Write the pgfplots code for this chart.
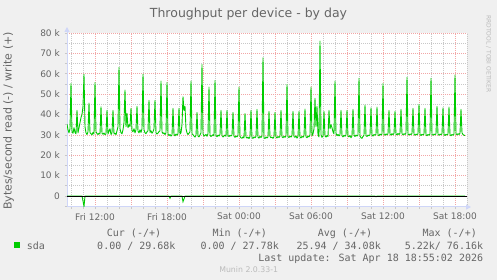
\documentclass[border=0pt]{standalone}
\usepackage{pgfplots}
\pgfplotsset{compat=1.18}
\usepackage{pgfplotstable}
\usepackage{fontspec}
\setmainfont{DejaVu Sans}
\newfontfamily\monofont{DejaVu Sans Mono}
\usetikzlibrary{arrows.meta}
\definecolor{bg}{HTML}{F0F0F0}
\definecolor{fontgrey}{HTML}{666666}
\definecolor{axisblue}{HTML}{CFD6F8}
\definecolor{mgridred}{HTML}{F2A6A6}
\definecolor{gridgrey}{HTML}{C8C8C8}
\definecolor{mgreen}{HTML}{00CC00}
\definecolor{wmgrey}{HTML}{BBBBBB}

\pgfplotstableread{
x y
-28 35.3
-27 32.5
-26 31.0
-25 33.0
-24 55.2
-23 31.5
-22 30.8
-21 33.5
-20 31.2
-19 30.5
-18 42.0
-17 31.0
-16 33.5
-15 36.0
-14 38.5
-13 40.0
-12 44.0
-11 59.7
-10 34.0
-9 31.0
-8 30.2
-7 31.5
-6 45.6
-5 31.0
-4 30.5
-3 30.0
-2 31.2
-1 30.4
0 55.7
1 31.5
2 30.6
3 30.2
4 30.8
5 30.4
6 43.8
7 30.8
8 30.3
9 30.9
10 30.1
11 30.6
12 42.0
13 30.5
14 31.8
15 33.0
16 30.2
17 31.0
18 42.0
19 30.4
20 30.8
21 30.1
22 32.0
23 34.0
24 63.2
25 33.0
26 31.0
27 30.5
28 32.5
29 36.0
30 52.0
31 34.0
32 40.6
33 33.5
34 35.0
35 34.0
36 43.0
37 32.0
38 31.5
39 33.0
40 31.0
41 32.5
42 44.0
43 31.8
44 31.0
45 32.5
46 31.2
47 33.0
48 59.7
49 32.5
50 31.0
51 30.6
52 31.5
53 32.0
54 47.0
55 31.2
56 32.0
57 30.8
58 31.5
59 33.0
60 47.0
61 31.0
62 30.4
63 30.9
64 31.6
65 32.0
66 56.4
67 31.5
68 30.6
69 31.0
70 30.2
71 31.0
72 55.7
73 30.5
74 29.6
75 30.2
76 29.4
77 30.0
78 43.0
79 30.2
80 29.5
81 30.4
82 29.8
83 30.6
84 43.0
85 30.4
86 31.0
87 35.0
88 48.7
89 42.0
90 44.0
91 33.0
92 31.0
93 30.2
94 30.8
95 31.5
96 56.4
97 30.5
98 30.1
99 29.4
100 28.9
101 29.8
102 41.0
103 29.5
104 29.0
105 30.0
106 31.0
107 64.5
108 30.6
109 29.4
110 29.8
111 30.2
112 29.3
113 30.5
114 53.4
115 29.8
116 29.2
117 29.6
118 30.1
119 29.5
120 56.7
121 29.7
122 29.1
123 29.9
124 29.4
125 30.2
126 42.0
127 29.6
128 29.0
129 29.5
130 29.9
131 29.3
132 42.0
133 29.7
134 29.2
135 29.8
136 29.4
137 29.9
138 41.0
139 29.3
140 28.8
141 29.5
142 29.0
143 29.7
144 53.4
145 29.2
146 28.6
147 28.3
148 29.0
149 28.5
150 40.5
151 29.0
152 28.4
153 28.9
154 28.2
155 29.1
156 42.0
157 28.7
158 28.3
159 29.0
160 28.6
161 29.2
162 42.5
163 28.8
164 28.4
165 29.3
166 28.7
167 29.5
168 67.8
169 28.6
170 28.2
171 29.0
172 28.5
173 29.0
174 41.5
175 29.2
176 28.6
177 28.9
178 28.3
179 29.1
180 41.0
181 28.9
182 28.5
183 29.2
184 28.7
185 29.4
186 42.0
187 29.0
188 28.6
189 29.3
190 28.8
191 29.5
192 54.7
193 29.0
194 28.7
195 29.4
196 28.9
197 29.6
198 41.5
199 29.1
200 28.8
201 29.5
202 28.4
203 29.2
204 41.5
205 28.9
206 28.5
207 29.3
208 28.8
209 29.6
210 42.6
211 29.0
212 28.6
213 29.4
214 29.0
215 30.0
216 53.4
217 29.5
218 30.5
219 33.0
220 47.9
221 34.0
222 44.0
223 30.0
224 29.0
225 76.0
226 30.0
227 28.8
228 29.5
229 41.5
230 29.4
231 28.9
232 29.7
233 29.2
234 42.0
235 33.0
236 35.0
237 33.5
238 31.5
239 30.5
240 56.4
241 30.8
242 29.6
243 30.2
244 29.5
245 30.0
246 42.0
247 29.6
248 29.0
249 29.8
250 29.3
251 30.0
252 42.0
253 29.5
254 29.0
255 29.7
256 28.6
257 29.5
258 42.5
259 29.8
260 29.2
261 29.9
262 29.4
263 30.0
264 57.7
265 29.5
266 28.6
267 28.3
268 29.2
269 29.8
270 44.6
271 29.6
272 29.2
273 29.9
274 29.5
275 30.1
276 43.3
277 29.9
278 29.4
279 30.2
280 29.8
281 30.3
282 43.6
283 30.1
284 29.6
285 30.4
286 29.9
287 30.5
288 55.2
289 30.2
290 29.8
291 30.5
292 30.0
293 30.6
294 42.0
295 30.3
296 29.9
297 30.6
298 30.1
299 30.7
300 41.5
301 30.4
302 30.0
303 30.7
304 30.2
305 30.8
306 42.5
307 30.5
308 30.0
309 30.6
310 30.2
311 30.9
312 58.3
313 30.4
314 29.9
315 30.5
316 30.1
317 30.7
318 43.0
319 30.3
320 29.8
321 30.4
322 30.0
323 30.6
324 45.0
325 30.2
326 29.7
327 30.3
328 29.9
329 30.5
330 43.0
331 30.1
332 29.6
333 30.2
334 29.8
335 30.5
336 57.7
337 30.2
338 29.8
339 30.4
340 30.0
341 30.6
342 44.0
343 30.3
344 29.8
345 30.4
346 30.0
347 30.6
348 43.3
349 30.2
350 29.7
351 30.3
352 29.9
353 30.5
354 43.6
355 30.1
356 29.6
357 30.2
358 29.8
359 30.4
360 59.3
361 30.5
362 30.0
363 30.6
364 30.2
365 30.8
366 42.5
367 31.0
368 30.2
369 29.8
370 29.7
}\writedata

\begin{document}
\begin{tikzpicture}
\fill[bg] (0,0) rectangle (497bp,280bp);
\begin{axis}[
  at={(67bp,73bp)}, anchor=south west,
  scale only axis, width=400bp, height=174bp,
  xmin=-28, xmax=372, ymin=-5.4, ymax=80,
  axis x line=bottom, axis y line=left,
  axis line style={draw=axisblue, line width=1bp},
  x axis line style={-{Triangle[length=5bp,width=5bp]}, shorten >=-4bp},
  y axis line style={-{Triangle[length=5bp,width=5bp]}, shorten >=-6bp},
  axis background/.style={fill=white},
  xtick={0,36,...,360},
  xticklabels={Fri 12:00,,Fri 18:00,,Sat 00:00,,Sat 06:00,,Sat 12:00,,Sat 18:00},
  minor xtick={-24,-12,...,372},
  ytick={0,10,...,80},
  yticklabels={0,10 k,20 k,30 k,40 k,50 k,60 k,70 k,80 k},
  minor ytick={-5,5,...,75},
  grid=both,
  major grid style={draw=mgridred, dash pattern=on 1bp off 1bp, line width=0.7bp},
  minor grid style={draw=gridgrey, dash pattern=on 1bp off 1bp, line width=0.7bp},
  tick align=outside,
  major tick length=2bp, minor tick length=2bp,
  tick style={draw=gridgrey, line width=0.7bp},
  /pgf/number format/assume math mode=true,
  ticklabel style={font=\fontsize{9bp}{10bp}\selectfont, text=fontgrey, inner sep=0pt},
  yticklabel style={xshift=-5bp},
  xticklabel style={yshift=-4bp},
]
\addplot[mgreen, line width=0.9bp, line join=round] table[x=x, y=y] {\writedata};
\addplot[mgreen, line width=0.9bp] coordinates {(-28,0) (-13,0) (-12,-2.5) (-11,-5.2) (-10,0) (74,0) (75,-1.1) (76,0) (87,0) (88,-2.8) (89,-1.5) (90,0) (280,0) (281,-0.4) (282,0) (370,0)};
\addplot[black, line width=0.9bp] coordinates {(-28,0) (372,0)};
\end{axis}
% title
\node[anchor=base, inner sep=0pt, text=fontgrey, font=\fontsize{12.5bp}{14bp}\selectfont] at (248.5bp,262.6bp) {Throughput per device - by day};
% y label
\node[rotate=90, anchor=center, inner sep=0pt, text=fontgrey, font=\fontsize{11bp}{13bp}\selectfont] at (8.5bp,159bp) {Bytes/second read (-) / write (+)};
% watermark
\node[rotate=-90, anchor=base west, inner sep=0pt, text=wmgrey, font=\fontsize{6bp}{7bp}\selectfont] at (486.5bp,265bp) {RRDTOOL / TOBI OETIKER};
% legend
\begin{scope}[every node/.style={inner sep=0pt, text=fontgrey, font=\monofont\fontsize{10bp}{12bp}\selectfont}]
\node[anchor=base] at (134bp,43bp) {Cur (-/+)};
\node[anchor=base] at (239.7bp,43bp) {Min (-/+)};
\node[anchor=base] at (345bp,43bp) {Avg (-/+)};
\node[anchor=base] at (449.7bp,43bp) {Max (-/+)};
\node[anchor=base west] at (26.7bp,31bp) {sda};
\node[anchor=base east] at (175.7bp,31bp) {0.00 / 29.68k};
\node[anchor=base east] at (279bp,31bp) {0.00 / 27.78k};
\node[anchor=base east] at (381bp,31bp) {25.94 / 34.08k};
\node[anchor=base east] at (483.3bp,31bp) {5.22k/ 76.16k};
\node[anchor=base east] at (483.3bp,19bp) {Last update: Sat Apr 18 18:55:02 2026};
\end{scope}
\fill[mgreen] (14bp,32bp) rectangle (20bp,38bp);
\node[anchor=base, inner sep=0pt, text=wmgrey, font=\fontsize{7.8bp}{9bp}\selectfont] at (248.7bp,8bp) {Munin 2.0.33-1};
\end{tikzpicture}
\end{document}
